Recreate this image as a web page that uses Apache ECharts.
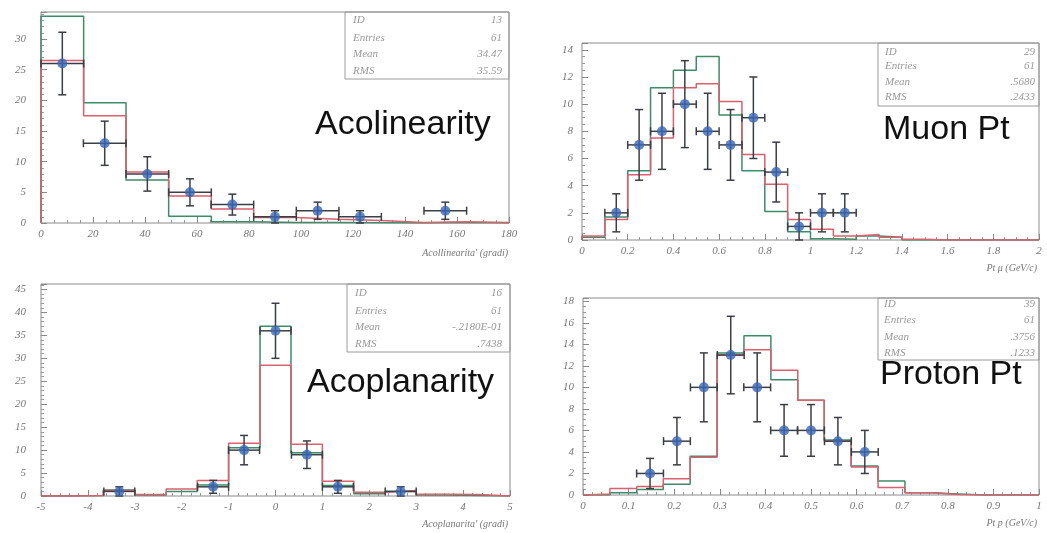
<!DOCTYPE html>
<html>
<head>
<meta charset="utf-8">
<script src="https://cdn.jsdelivr.net/npm/echarts@6/dist/echarts.min.js"></script>
<style>
html,body{margin:0;padding:0;background:#fff;}
#main{width:1047px;height:533px;}
</style>
</head>
<body>
<div id="main"></div>
<script>
// Acolinearity (ID 13)
const acolEdges = [0, 16.4, 32.7, 49.1, 65.5, 81.8, 98.2, 114.5, 130.9, 147.3, 163.6, 180];
const acolRed = [26.5, 17.5, 8.3, 4.4, 2.3, 0.9, 0.6, 0.4, 0.1, 0.2, 0.1];
const acolGreen = [33.7, 19.6, 7.0, 1.1, 0.2, 0.1, 0.1, 0.05, 0, 0.1, 0];
const acolX = [8.2, 24.5, 40.9, 57.3, 73.6, 90, 106.4, 122.7, 155.5];
const acolY = [26, 13, 8, 5, 3, 1, 2, 1, 2];
const acolErr = [5.1, 3.6, 2.8, 2.2, 1.7, 1, 1.4, 1, 1.4];
const acolStats = [["ID", "13"], ["Entries", "61"], ["Mean", "34.47"], ["RMS", "35.59"]];

// Muon Pt (ID 29)
const muEdges = [0, 0.1, 0.2, 0.3, 0.4, 0.5, 0.6, 0.7, 0.8, 0.9, 1.0, 1.1, 1.2, 1.3, 1.4, 1.5, 1.6, 1.7, 1.8, 1.9, 2.0];
const muRed = [0.3, 1.5, 4.8, 7.5, 11.2, 11.5, 10.2, 6.3, 4.1, 1.5, 0.8, 0.3, 0.4, 0.2, 0.05, 0, 0, 0, 0, 0];
const muGreen = [0.2, 1.7, 5.1, 11.2, 12.5, 13.5, 9.2, 5.1, 2.1, 0.6, 0.1, 0.05, 0.3, 0.2, 0, 0, 0, 0, 0, 0];
const muX = [0.15, 0.25, 0.35, 0.45, 0.55, 0.65, 0.75, 0.85, 0.95, 1.05, 1.15];
const muY = [2, 7, 8, 10, 8, 7, 9, 5, 1, 2, 2];
const muErr = [1.4, 2.6, 2.8, 3.2, 2.8, 2.6, 3, 2.2, 1, 1.4, 1.4];
const muStats = [["ID", "29"], ["Entries", "61"], ["Mean", ".5680"], ["RMS", ".2433"]];

// Acoplanarity (ID 16)
const acopEdges = [-5, -4.33, -3.67, -3, -2.33, -1.67, -1, -0.33, 0.33, 1, 1.67, 2.33, 3, 3.67, 4.33, 5];
const acopRed = [0, 0.1, 1.2, 0.3, 1.5, 3.4, 11.5, 28.5, 11.3, 3.2, 0.8, 1.2, 0.4, 0.3, 0];
const acopGreen = [0, 0.1, 1.3, 0.2, 1.0, 2.4, 10.5, 37, 9.4, 2.3, 0.5, 1.0, 0.2, 0.1, 0];
const acopX = [-3.33, -1.33, -0.67, 0, 0.67, 1.33, 2.67];
const acopY = [1, 2, 10, 36, 9, 2, 1];
const acopErr = [1, 1.4, 3.2, 6, 3, 1.4, 1];
const acopStats = [["ID", "16"], ["Entries", "61"], ["Mean", "-.2180E-01"], ["RMS", ".7438"]];

// Proton Pt (ID 39)
const pEdges = [0, 0.059, 0.118, 0.176, 0.235, 0.294, 0.353, 0.412, 0.471, 0.529, 0.588, 0.647, 0.706, 0.765, 0.824, 0.882, 0.941, 1];
const pRed = [0.1, 0.6, 0.8, 1.5, 3.5, 13, 13.5, 11.6, 8.8, 5, 2.6, 0.7, 0.2, 0.05, 0, 0, 0];
const pGreen = [0, 0.2, 0.5, 1.0, 3.6, 13.2, 14.8, 10.7, 8.8, 5.1, 2.7, 1.3, 0.2, 0.1, 0, 0, 0];
const pX = [0.147, 0.206, 0.265, 0.324, 0.382, 0.441, 0.5, 0.559, 0.618];
const pY = [2, 5, 10, 13, 10, 6, 6, 5, 4];
const pErr = [1.4, 2.2, 3.2, 3.6, 3.2, 2.4, 2.4, 2.2, 2];
const pStats = [["ID", "39"], ["Entries", "61"], ["Mean", ".3756"], ["RMS", ".1233"]];

const RED = "#d8606f", GREEN = "#3f8a68", BAR = "#3b3e44", DOT = "#3a66b5";
const serif = "Liberation Serif";

// histogram outline: up from 0, across each bin, back down to 0
function histLine(edges, vals) {
  const pts = [[edges[0], 0]];
  for (let i = 0; i < vals.length; i++) {
    pts.push([edges[i], vals[i]]);
    pts.push([edges[i + 1], vals[i]]);
  }
  pts.push([edges[edges.length - 1], 0]);
  return pts;
}

function histSeries(idx, edges, vals, color) {
  return {
    type: "line", xAxisIndex: idx, yAxisIndex: idx,
    data: histLine(edges, vals), symbol: "none",
    lineStyle: {color: color, width: 1.5}, z: 2
  };
}

function errSeries(idx, xs, ys, errs, xerr) {
  return {
    type: "custom", xAxisIndex: idx, yAxisIndex: idx, z: 3,
    data: xs.map((x, i) => [x, ys[i], errs[i], xerr]),
    renderItem: function (params, api) {
      const x = api.value(0), y = api.value(1), e = api.value(2), xe = api.value(3);
      const lo = api.coord([x, Math.max(0, y - e)]), hi = api.coord([x, y + e]);
      const l = api.coord([x - xe, y]), r = api.coord([x + xe, y]);
      const st = {stroke: BAR, lineWidth: 1.5};
      const c = 4;
      return {type: "group", children: [
        {type: "line", shape: {x1: lo[0], y1: lo[1], x2: hi[0], y2: hi[1]}, style: st},
        {type: "line", shape: {x1: hi[0] - c, y1: hi[1], x2: hi[0] + c, y2: hi[1]}, style: st},
        {type: "line", shape: {x1: lo[0] - c, y1: lo[1], x2: lo[0] + c, y2: lo[1]}, style: st},
        {type: "line", shape: {x1: l[0], y1: l[1], x2: r[0], y2: r[1]}, style: st},
        {type: "line", shape: {x1: l[0], y1: l[1] - c, x2: l[0], y2: l[1] + c}, style: st},
        {type: "line", shape: {x1: r[0], y1: r[1] - c, x2: r[0], y2: r[1] + c}, style: st}
      ]};
    }
  };
}

function dotSeries(idx, xs, ys) {
  return {
    type: "scatter", xAxisIndex: idx, yAxisIndex: idx, z: 4,
    data: xs.map((x, i) => [x, ys[i]]),
    symbolSize: 10, itemStyle: {color: DOT}
  };
}

const labelStyle = {fontFamily: serif, fontStyle: "italic", fontSize: 11, color: "#777"};

function xAx(idx, min, max, interval, minor) {
  return {
    type: "value", gridIndex: idx, min: min, max: max, interval: interval,
    axisLine: {show: false, onZero: false},
    axisTick: {inside: true, length: 6, lineStyle: {color: "#888"}},
    minorTick: {show: true, splitNumber: minor, length: 3, lineStyle: {color: "#999"}},
    splitLine: {show: false},
    axisLabel: Object.assign({margin: 6}, labelStyle)
  };
}
function yAx(idx, max, interval, minor, margin) {
  return {
    type: "value", gridIndex: idx, min: 0, max: max, interval: interval,
    axisLine: {show: false, onZero: false},
    axisTick: {inside: true, length: 6, lineStyle: {color: "#888"}},
    minorTick: {show: true, splitNumber: minor, length: 3, lineStyle: {color: "#999"}},
    splitLine: {show: false},
    axisLabel: Object.assign({margin: margin, showMaxLabel: false}, labelStyle)
  };
}

function grid(left, top, width, height) {
  return {left: left, top: top, width: width, height: height, show: true,
    borderColor: "#8a8a8a", borderWidth: 1, backgroundColor: "transparent"};
}

// stats box: frame + label/value rows
function statsBox(x, y, w, h, rows, rowY, lx, rx) {
  const els = [{type: "rect", shape: {x: x, y: y, width: w, height: h},
    style: {fill: "none", stroke: "#9a9a9a", lineWidth: 1}, z: 5}];
  rows.forEach((r, i) => {
    els.push({type: "text", x: lx, y: rowY[i], z: 5,
      style: {text: r[0], font: "italic 11px " + serif, fill: "#999", verticalAlign: "middle"}});
    els.push({type: "text", x: rx, y: rowY[i], z: 5,
      style: {text: r[1], font: "italic 11px " + serif, fill: "#999", align: "right", verticalAlign: "middle"}});
  });
  return els;
}

function bigLabel(text, x, y) {
  return {type: "text", x: x, y: y, z: 5,
    style: {text: text, font: "34px 'Liberation Sans'", fill: "#111", verticalAlign: "middle"}};
}
function axisTitle(text, x, y) {
  return {type: "text", x: x, y: y, z: 5,
    style: {text: text, font: "italic 10px " + serif, fill: "#777", align: "right", verticalAlign: "middle"}};
}

const chart = echarts.init(document.getElementById("main"));
chart.setOption({
  animation: false,
  backgroundColor: "#fff",
  grid: [
    grid(41, 12, 468, 211),
    grid(582, 43, 457, 197),
    grid(41, 284, 469, 212),
    grid(583, 298, 456, 197)
  ],
  xAxis: [
    xAx(0, 0, 180, 20, 4),
    xAx(1, 0, 2, 0.2, 4),
    xAx(2, -5, 5, 1, 5),
    xAx(3, 0, 1, 0.1, 5)
  ],
  yAxis: [
    yAx(0, 34.4, 5, 5, 15),
    yAx(1, 14.5, 2, 4, 9),
    yAx(2, 46.2, 5, 5, 15),
    yAx(3, 18.3, 2, 4, 9)
  ],
  series: [
    histSeries(0, acolEdges, acolGreen, GREEN),
    histSeries(0, acolEdges, acolRed, RED),
    errSeries(0, acolX, acolY, acolErr, 8.2),
    dotSeries(0, acolX, acolY),

    histSeries(1, muEdges, muGreen, GREEN),
    histSeries(1, muEdges, muRed, RED),
    errSeries(1, muX, muY, muErr, 0.05),
    dotSeries(1, muX, muY),

    histSeries(2, acopEdges, acopGreen, GREEN),
    histSeries(2, acopEdges, acopRed, RED),
    errSeries(2, acopX, acopY, acopErr, 0.33),
    dotSeries(2, acopX, acopY),

    histSeries(3, pEdges, pGreen, GREEN),
    histSeries(3, pEdges, pRed, RED),
    errSeries(3, pX, pY, pErr, 0.0294),
    dotSeries(3, pX, pY)
  ],
  graphic: [].concat(
    statsBox(345, 12, 164, 67, acolStats, [20, 38, 54, 71], 353, 502),
    statsBox(878, 43, 161, 63, muStats, [52, 66, 82, 97], 885, 1035),
    statsBox(347, 284, 163, 68, acopStats, [293, 311, 327, 344], 355, 502),
    statsBox(878, 298, 161, 62, pStats, [304, 320, 337, 353], 884, 1035),
    [
      bigLabel("Acolinearity", 315, 125),
      bigLabel("Muon Pt", 883, 130),
      bigLabel("Acoplanarity", 307, 383),
      bigLabel("Proton Pt", 880, 375),
      axisTitle("Acollinearita' (gradi)", 508, 253),
      axisTitle("Pt \u03bc (GeV/c)", 1037, 268),
      axisTitle("Acoplanarita' (gradi)", 508, 524),
      axisTitle("Pt p (GeV/c)", 1037, 523)
    ]
  )
});
</script>
</body>
</html>
